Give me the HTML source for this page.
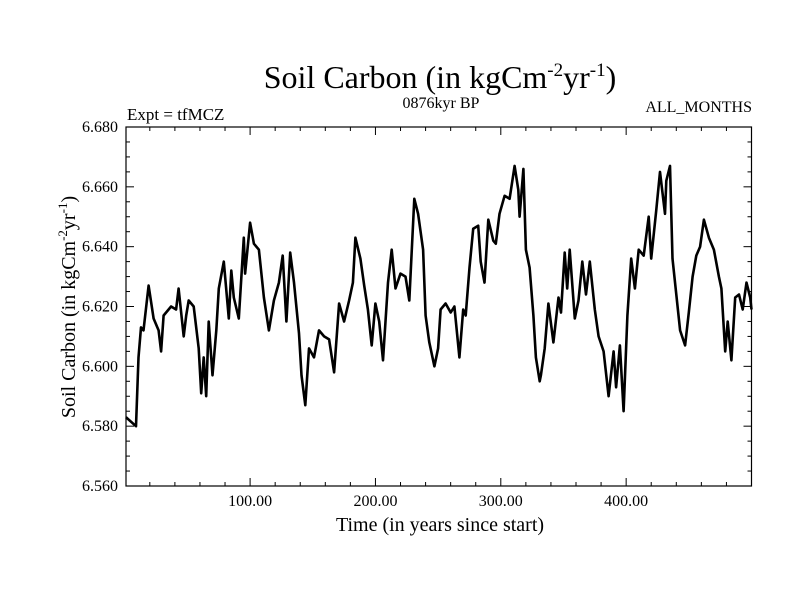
<!DOCTYPE html>
<html><head><meta charset="utf-8"><style>
body{margin:0;background:#fff}
svg{display:block;font-family:"Liberation Serif",serif}
</style></head><body>
<svg id="chart" width="800" height="600">
<text x="440" y="88" font-size="32" text-anchor="middle">Soil Carbon (in kgCm<tspan dy="-12" font-size="19">-2</tspan><tspan dy="12">yr</tspan><tspan dy="-12" font-size="19">-1</tspan><tspan dy="12">)</tspan></text>
<text x="127" y="120" font-size="17">Expt = tfMCZ</text>
<text x="441" y="108" font-size="16" text-anchor="middle">0876kyr BP</text>
<text x="752" y="112" font-size="16" text-anchor="end">ALL_MONTHS</text>
<text transform="translate(75,307) rotate(-90)" font-size="20" text-anchor="middle">Soil Carbon (in kgCm<tspan dy="-8" font-size="13">-2</tspan><tspan dy="8">yr</tspan><tspan dy="-8" font-size="13">-1</tspan><tspan dy="8">)</tspan></text>
<text x="440" y="531" font-size="20" text-anchor="middle">Time (in years since start)</text>
<g id="axes"></g>
<path id="series" fill="none" stroke="#000" stroke-width="2.6" stroke-linejoin="round"></path>
<rect x="126" y="127" width="625.5" height="359" fill="none" stroke="#000" stroke-width="1.2"></rect>
</svg>
<script>
const years=[1,9,11,13,15,19,23,27,29,31,37,41,43,47,49,51,55,59,61,63,65,67,70,73,75,79,83,85,87,91,95,96,100,103,107,111,115,119,123,126,129,132,135,139,141,144,147,151,155,159,163,167,171,175,179,182,184,188,191,194,197,200,203,206,210,213,216,220,224,227,231,234,238,240,243,247,250,252,256,260,263,267,270,272,275,278,282,284,287,290,294,296,299,303,307,311,314,315,318,320,323,326,328,331,332,335,338,342,346,348,351,353,355,359,362,365,368,371,375,378,382,386,390,392,395,398,401,404,407,410,414,418,420,424,427,431,432,435,437,440,443,447,450,453,456,459,462,466,470,474,476,479,481,484,487,490,493,496,499,500];
const values=[6.583,6.580,6.603,6.613,6.612,6.627,6.616,6.612,6.605,6.617,6.620,6.619,6.626,6.610,6.617,6.622,6.620,6.606,6.591,6.603,6.590,6.615,6.597,6.612,6.626,6.635,6.616,6.632,6.623,6.616,6.643,6.631,6.648,6.641,6.639,6.623,6.612,6.622,6.628,6.637,6.615,6.638,6.628,6.611,6.597,6.587,6.606,6.603,6.612,6.610,6.609,6.598,6.621,6.615,6.622,6.628,6.643,6.636,6.627,6.619,6.607,6.621,6.615,6.602,6.628,6.639,6.626,6.631,6.630,6.622,6.656,6.651,6.639,6.617,6.608,6.600,6.606,6.619,6.621,6.618,6.620,6.603,6.619,6.617,6.633,6.646,6.647,6.635,6.628,6.649,6.642,6.641,6.651,6.657,6.656,6.667,6.659,6.650,6.666,6.639,6.633,6.617,6.603,6.595,6.597,6.606,6.621,6.608,6.623,6.618,6.638,6.626,6.639,6.616,6.622,6.635,6.624,6.635,6.619,6.610,6.605,6.590,6.605,6.593,6.607,6.585,6.617,6.636,6.626,6.639,6.637,6.650,6.636,6.652,6.665,6.651,6.662,6.667,6.636,6.624,6.612,6.607,6.618,6.630,6.637,6.640,6.649,6.643,6.639,6.630,6.626,6.605,6.615,6.602,6.623,6.624,6.619,6.628,6.623,6.619];
const yTicks=[6.560,6.580,6.600,6.620,6.640,6.660,6.680];
const xTicks=[100,200,300,400];
const X0=126,X1=751.5,Y0=486,Y1=127,xmin=1,xmax=500,ymin=6.56,ymax=6.68;
const sx=v=>X0+(v-xmin)/(xmax-xmin)*(X1-X0);
const sy=v=>Y0-(v-ymin)/(ymax-ymin)*(Y0-Y1);
const ns="http://www.w3.org/2000/svg";
const axes=document.getElementById('axes');
function line(x1,y1,x2,y2,name){const l=document.createElementNS(ns,'line');l.setAttribute('x1',x1);l.setAttribute('y1',y1);l.setAttribute('x2',x2);l.setAttribute('y2',y2);l.setAttribute('stroke','#000');l.setAttribute('stroke-width','1');


axes.appendChild(l);}
function text(x,y,s,anchor,name){const t=document.createElementNS(ns,'text');t.setAttribute('x',x);t.setAttribute('y',y);t.setAttribute('font-size','16');t.setAttribute('text-anchor',anchor);t.textContent=s;


axes.appendChild(t);}
for(let v=0;v<=500;v+=20){const x=sx(v);if(x<X0-0.5||x>X1+0.5)continue;const major=v%100===0;const L=major?8:4;line(x,Y0,x,Y0-L,'x-tick');line(x,Y1,x,Y1+L,'x-tick-top');}
xTicks.forEach(v=>text(sx(v),506,v.toFixed(2),'middle','x-tick-label'));
for(let i=0;i<=24;i++){const v=ymin+i*0.005;const y=sy(v);const major=i%4===0;const L=major?8:4;line(X0,y,X0+L,y,'y-tick');line(X1,y,X1-L,y,'y-tick-right');}
yTicks.forEach(v=>text(118,sy(v)+5,v.toFixed(3),'end','y-tick-label'));
let d='';years.forEach((yr,i)=>{d+=(i?'L':'M')+sx(yr).toFixed(1)+','+sy(values[i]).toFixed(1);});
document.getElementById('series').setAttribute('d',d);
</script>
</body></html>
